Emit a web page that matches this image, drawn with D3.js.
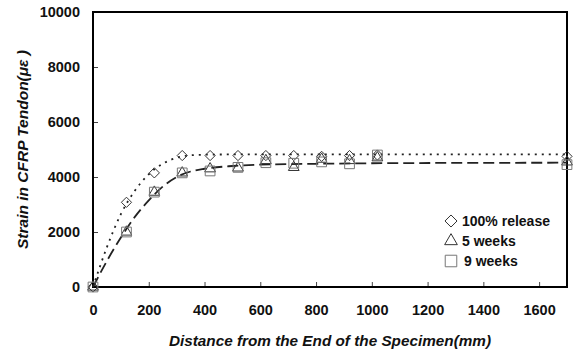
<!DOCTYPE html>
<html>
<head>
<meta charset="utf-8">
<script src="https://cdn.jsdelivr.net/npm/d3@7"></script>
<style>
  body { margin: 0; background: #fff; }
  svg { display: block; font-family: Arial, "Liberation Sans", sans-serif; }
</style>
</head>
<body>
<svg class="chart"></svg>
<script>
// measured points
const distance = [0, 120, 220, 320, 420, 520, 620, 720, 820, 920, 1020, 1700];
const release100 = [0, 3080, 4150, 4780, 4780, 4780, 4780, 4780, 4750, 4780, 4800, 4750];
const weeks5 = [0, 2000, 3450, 4150, 4300, 4330, 4600, 4350, 4650, 4600, 4700, 4550];
const weeks9 = [0, 2000, 3450, 4150, 4220, 4350, 4520, 4500, 4550, 4480, 4800, 4450];

// trend lines
const fitDistance = [0, 50, 100, 150, 200, 250, 300, 350, 400, 500, 600, 800, 1000, 1700];
const fitRelease = [0, 1450, 2650, 3500, 4100, 4480, 4700, 4790, 4810, 4820, 4820, 4820, 4820, 4820];
const fitWeeks = [0, 950, 1800, 2550, 3150, 3650, 4000, 4200, 4300, 4400, 4450, 4480, 4500, 4520];

const xTicks = [0, 200, 400, 600, 800, 1000, 1200, 1400, 1600];
const yTicks = [0, 2000, 4000, 6000, 8000, 10000];

const width = 573;
const height = 352;
const margin = { top: 12, right: 6, bottom: 65, left: 93 };

const svg = d3.select(".chart").attr("width", width).attr("height", height);

const x = d3.scaleLinear().domain([0, 1700]).range([margin.left, width - margin.right]);
const y = d3.scaleLinear().domain([0, 10000]).range([height - margin.bottom, margin.top]);

// axes with inward ticks
svg.append("g")
  .attr("class", "x-axis")
  .attr("transform", `translate(0,${height - margin.bottom})`)
  .call(d3.axisBottom(x).tickValues(xTicks).tickFormat(d3.format("d")).tickSizeInner(-5).tickSizeOuter(0).tickPadding(18))
  .call(g => g.select(".domain").remove())
  .call(g => g.selectAll("line").attr("stroke", "#444"))
  .call(g => g.selectAll("text").attr("font-size", 14.5).attr("font-weight", "bold").attr("fill", "#111"));

svg.append("g")
  .attr("class", "y-axis")
  .attr("transform", `translate(${margin.left},0)`)
  .call(d3.axisLeft(y).tickValues(yTicks).tickFormat(d3.format("d")).tickSizeInner(-5).tickSizeOuter(0).tickPadding(13))
  .call(g => g.select(".domain").remove())
  .call(g => g.selectAll("line").attr("stroke", "#444"))
  .call(g => g.selectAll("text").attr("font-size", 14.5).attr("font-weight", "bold").attr("fill", "#111"));

// frame
svg.append("rect")
  .attr("x", x(0)).attr("y", y(10000))
  .attr("width", x(1700) - x(0)).attr("height", y(0) - y(10000))
  .attr("fill", "none").attr("stroke", "#000").attr("stroke-width", 2);

// trend lines
const line = d3.line().x(d => x(d[0])).y(d => y(d[1])).curve(d3.curveMonotoneX);

svg.append("path")
  .datum(fitDistance.map((d, i) => [d, fitRelease[i]]))
  .attr("d", line)
  .attr("fill", "none").attr("stroke", "#222").attr("stroke-width", 1.8)
  .attr("stroke-dasharray", "2,5");

svg.append("path")
  .datum(fitDistance.map((d, i) => [d, fitWeeks[i]]))
  .attr("d", line)
  .attr("fill", "none").attr("stroke", "#222").attr("stroke-width", 1.8)
  .attr("stroke-dasharray", "11,5");

// markers (diamond widened so it is as wide as it is tall)
const series = [
  { name: "100% release", values: release100, symbol: d3.symbolDiamond, size: 30, stroke: "#333" },
  { name: "5 weeks", values: weeks5, symbol: d3.symbolTriangle, size: 50, stroke: "#333" },
  { name: "9 weeks", values: weeks9, symbol: d3.symbolSquare, size: 95, stroke: "#777" },
];
const stretch = s => (s.symbol === d3.symbolDiamond ? " scale(1.73,1)" : "");

series.forEach(s => {
  const sym = d3.symbol().type(s.symbol).size(s.size);
  svg.append("g")
    .selectAll("path")
    .data(distance.map((d, i) => [d, s.values[i]]))
    .join("path")
    .attr("transform", d => `translate(${x(d[0])},${y(d[1])})` + stretch(s))
    .attr("d", sym)
    .attr("fill", "none")
    .attr("stroke", s.stroke)
    .attr("stroke-width", 1)
    .attr("vector-effect", "non-scaling-stroke");
});

// legend
const legend = svg.append("g").attr("class", "legend");
series.forEach((s, i) => {
  const ly = 221 + i * 20;
  const sym = d3.symbol().type(s.symbol).size(s.size * 1.4);
  legend.append("path")
    .attr("transform", `translate(451,${ly})` + stretch(s))
    .attr("d", sym)
    .attr("fill", "none").attr("stroke", s.stroke).attr("stroke-width", 1)
    .attr("vector-effect", "non-scaling-stroke");
  legend.append("text")
    .attr("x", i === 2 ? 464 : 462).attr("y", ly + 5)
    .attr("font-size", 14).attr("font-weight", "bold").attr("fill", "#111")
    .text(s.name);
});

// axis titles
svg.append("text")
  .attr("x", (x(0) + x(1700)) / 2).attr("y", 346)
  .attr("text-anchor", "middle")
  .attr("font-size", 15.3).attr("font-weight", "bold").attr("font-style", "italic").attr("fill", "#111")
  .text("Distance from the End of the Specimen(mm)");

svg.append("text")
  .attr("transform", `translate(28,${(y(0) + y(10000)) / 2}) rotate(-90)`)
  .attr("text-anchor", "middle")
  .attr("font-size", 15.5).attr("font-weight", "bold").attr("font-style", "italic").attr("fill", "#111")
  .text("Strain in CFRP Tendon(με )");
</script>
</body>
</html>
